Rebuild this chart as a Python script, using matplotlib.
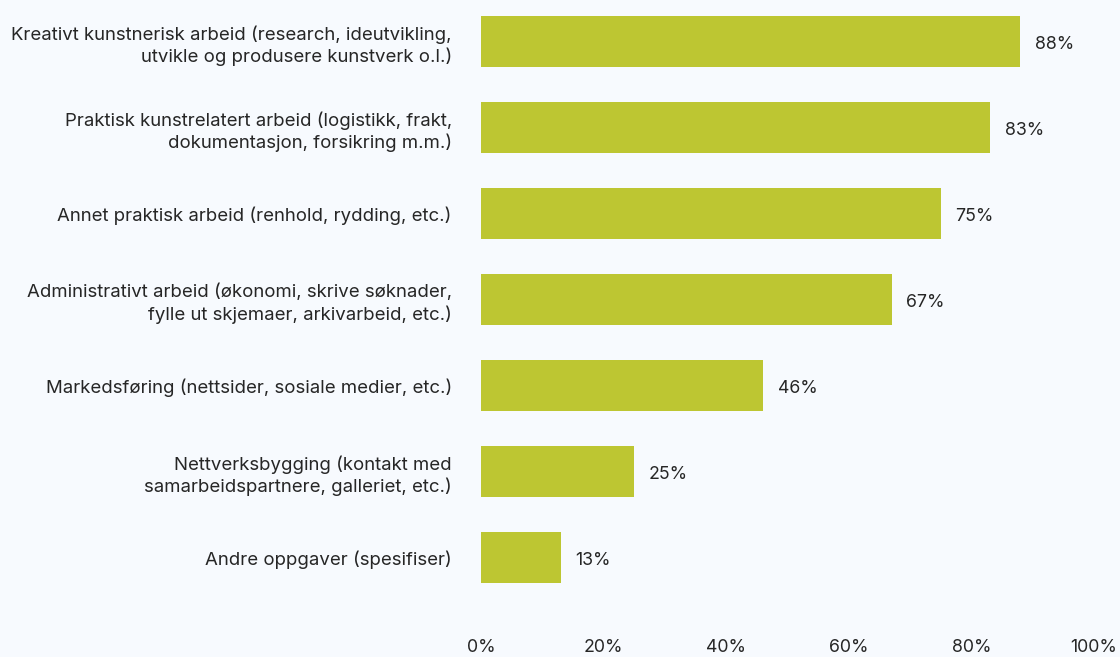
import matplotlib.pyplot as plt
from matplotlib.ticker import FuncFormatter

plt.rcParams['font.family'] = ['Inter', 'DejaVu Sans']

categories = [
    "Kreativt kunstnerisk arbeid (research, ideutvikling,\nutvikle og produsere kunstverk o.l.)",
    "Praktisk kunstrelatert arbeid (logistikk, frakt,\ndokumentasjon, forsikring m.m.)",
    "Annet praktisk arbeid (renhold, rydding, etc.)",
    "Administrativt arbeid (økonomi, skrive søknader,\nfylle ut skjemaer, arkivarbeid, etc.)",
    "Markedsføring (nettsider, sosiale medier, etc.)",
    "Nettverksbygging (kontakt med\nsamarbeidspartnere, galleriet, etc.)",
    "Andre oppgaver (spesifiser)",
]
values = [88, 83, 75, 67, 46, 25, 13]
xticks = [0, 20, 40, 60, 80, 100]

bg = '#f7fafe'
bar_color = '#bdc632'
text_color = '#262626'

W, H = 1120, 657
fig = plt.figure(figsize=(W / 100, H / 100), dpi=100, facecolor=bg)

# axes placed in pixel terms: x from 481 to 1094, y from top 0 to 620
top_px, bot_px = 0, 620
ax = fig.add_axes([481 / W, 1 - bot_px / H, (1094 - 481) / W, (bot_px - top_px) / H])
ax.set_facecolor(bg)

pitch = 86
first = 41.5
rows = list(range(len(categories)))
ax.barh(rows, values, height=51 / pitch, color=bar_color)
ax.set_ylim((bot_px - first) / pitch, (top_px - first) / pitch)
ax.set_xlim(0, 100)

for r, v in zip(rows, values):
    ax.text(v + 2.4, r + 0.03, f"{v}%", va='center', ha='left',
            fontsize=12.8, color=text_color)

ax.set_yticks(rows)
ax.set_yticklabels(categories, fontsize=13.4, color=text_color, linespacing=1.3)
ax.set_xticks(xticks)
ax.xaxis.set_major_formatter(FuncFormatter(lambda x, p: f"{x:.0f}%"))
ax.tick_params(axis='x', length=0, pad=14, labelsize=12.8, labelcolor=text_color)
ax.tick_params(axis='y', length=0, pad=21)
for s in ax.spines.values():
    s.set_visible(False)

fig.savefig('out.png', dpi=100, facecolor=bg)
